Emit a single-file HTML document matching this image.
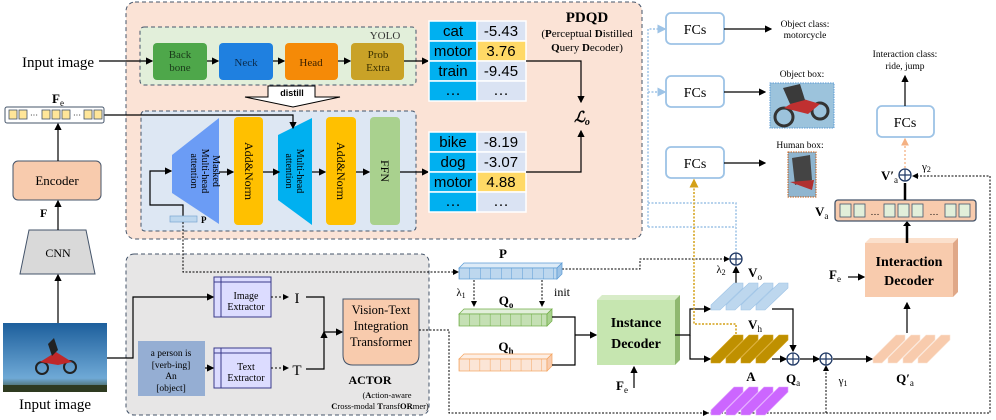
<!DOCTYPE html>
<html><head><meta charset="utf-8"><style>
body{margin:0;background:#fff}
svg{display:block}
svg text{font-family:"Liberation Serif",serif}
svg text.s{font-family:"Liberation Sans",sans-serif}
</style></head><body>
<svg width="996" height="420" viewBox="0 0 996 420" xmlns="http://www.w3.org/2000/svg" font-family="Liberation Serif, serif">
<defs>
<marker id="a" markerWidth="6" markerHeight="6" refX="5" refY="3" orient="auto"><path d="M0,0L6,3L0,6z" fill="#000"/></marker>
<marker id="ab" markerWidth="6" markerHeight="6" refX="5" refY="3" orient="auto"><path d="M0,0L6,3L0,6z" fill="#9dc3e6"/></marker>
<marker id="ag" markerWidth="6" markerHeight="6" refX="5" refY="3" orient="auto"><path d="M0,0L6,3L0,6z" fill="#d4a017"/></marker>
<marker id="ao" markerWidth="6" markerHeight="6" refX="5" refY="3" orient="auto"><path d="M0,0L6,3L0,6z" fill="#f4b183"/></marker>
<pattern id="pb" width="10.5" height="20" patternUnits="userSpaceOnUse" x="459"><rect width="10.5" height="20" fill="#bdd7ee"/><line x1="0" y1="0" x2="0" y2="20" stroke="#5b9bd5"/></pattern>
<pattern id="pg" width="10.3" height="20" patternUnits="userSpaceOnUse" x="459"><rect width="10.3" height="20" fill="#c5e0b4"/><line x1="0" y1="0" x2="0" y2="20" stroke="#70ad47"/></pattern>
<pattern id="po" width="10.3" height="20" patternUnits="userSpaceOnUse" x="459"><rect width="10.3" height="20" fill="#fbe5d6"/><line x1="0" y1="0" x2="0" y2="20" stroke="#f4a460"/></pattern>
<linearGradient id="sky" x1="0" y1="0" x2="0" y2="1"><stop offset="0" stop-color="#1d5f9c"/><stop offset="0.8" stop-color="#6fa9d6"/><stop offset="1" stop-color="#3a4a2a"/></linearGradient>
</defs>

<rect x="126" y="2" width="516" height="237" rx="9" fill="#fbe3d6" stroke="#44546a" stroke-dasharray="4,3"/>
<rect x="140" y="27" width="276" height="58" rx="4" fill="#e2efda" stroke="#44546a" stroke-dasharray="4,3"/>
<text x="385" y="39" font-size="11" text-anchor="middle" fill="#333">YOLO</text>
<rect x="153" y="43" width="54" height="37" rx="4" fill="#4ea74a"/>
<text x="180" y="58" font-size="11" text-anchor="middle" fill="#1a3a1a">Back</text><text x="180" y="71" font-size="11" text-anchor="middle" fill="#1a3a1a">bone</text>
<rect x="219" y="43" width="54" height="37" rx="4" fill="#1f80e0"/>
<text x="246" y="66" font-size="11" text-anchor="middle" fill="#0a2a4a">Neck</text>
<rect x="285" y="43" width="53" height="37" rx="4" fill="#f58a07"/>
<text x="311" y="66" font-size="11" text-anchor="middle" fill="#3a2000">Head</text>
<rect x="351" y="43" width="53" height="37" rx="4" fill="#c9a227"/>
<text x="378" y="58" font-size="11" text-anchor="middle" fill="#3a3000">Prob</text><text x="378" y="71" font-size="11" text-anchor="middle" fill="#3a3000">Extra</text>
<g stroke="#000" stroke-width="1.2" marker-end="url(#a)">
<line x1="99" y1="61" x2="152" y2="61"/><line x1="207" y1="61" x2="218" y2="61"/><line x1="273" y1="61" x2="284" y2="61"/><line x1="338" y1="61" x2="350" y2="61"/><line x1="404" y1="61" x2="428" y2="61"/>
</g>
<text x="22" y="67" font-size="15">Input image</text>
<path d="M268,86H315V97H340L293,107L245,97H268Z" fill="#fff" stroke="#000"/>
<text x="292" y="96" font-size="9" font-weight="bold" text-anchor="middle" class="s">distill</text>

<rect x="141" y="111" width="275" height="120" rx="4" fill="#dde7f3" stroke="#44546a" stroke-dasharray="4,3"/>
<polygon points="219,118 219,224 172,193 172,155" fill="#6b9cf5"/>
<text transform="translate(205,171) rotate(90)" font-size="10" text-anchor="middle"><tspan x="0" y="-8">Masked</tspan><tspan x="0" y="3">Multi-head</tspan><tspan x="0" y="14">attention</tspan></text>
<rect x="234" y="117" width="29" height="108" rx="4" fill="#ffc000"/>
<text transform="translate(249,171) rotate(90)" font-size="12" text-anchor="middle" y="4">Add&amp;Norm</text>
<polygon points="312,118 312,225 278,200 278,135" fill="#00b0f0"/>
<text transform="translate(295,171) rotate(90)" font-size="10" text-anchor="middle"><tspan x="0" y="-2">Multi-head</tspan><tspan x="0" y="9">attention</tspan></text>
<rect x="326" y="117" width="30" height="108" rx="4" fill="#ffc000"/>
<text transform="translate(341,171) rotate(90)" font-size="12" text-anchor="middle" y="4">Add&amp;Norm</text>
<rect x="370" y="117" width="30" height="108" rx="4" fill="#a9d18e"/>
<text transform="translate(385,171) rotate(90)" font-size="12" text-anchor="middle" y="4">FFN</text>
<g stroke="#000" stroke-width="1.2" marker-end="url(#a)" fill="none">
<line x1="219" y1="172" x2="233" y2="172"/><line x1="263" y1="172" x2="279" y2="172"/><line x1="312" y1="172" x2="325" y2="172"/><line x1="356" y1="172" x2="369" y2="172"/><line x1="400" y1="172" x2="428" y2="172"/>
<path d="M183,217V205H150V171H171"/>
<path d="M104,115H293V128"/>
</g>
<rect x="170" y="216" width="27" height="6" fill="#bdd7ee" stroke="#7aa6d0" stroke-width="0.7"/>
<text x="201" y="223" font-size="9" font-weight="bold">P</text>

<g font-size="15" text-anchor="middle">
<g stroke="#fff" stroke-width="1.5">
<rect x="429" y="21" width="48" height="20" fill="#00b0f0"/><rect x="477" y="21" width="49" height="20" fill="#dae3f3"/>
<rect x="429" y="41" width="48" height="20" fill="#00b0f0"/><rect x="477" y="41" width="49" height="20" fill="#ffd966"/>
<rect x="429" y="61" width="48" height="20" fill="#00b0f0"/><rect x="477" y="61" width="49" height="20" fill="#dae3f3"/>
<rect x="429" y="81" width="48" height="20" fill="#00b0f0"/><rect x="477" y="81" width="49" height="20" fill="#dae3f3"/>
<rect x="429" y="132" width="48" height="20" fill="#00b0f0"/><rect x="477" y="132" width="49" height="20" fill="#dae3f3"/>
<rect x="429" y="152" width="48" height="20" fill="#00b0f0"/><rect x="477" y="152" width="49" height="20" fill="#dae3f3"/>
<rect x="429" y="172" width="48" height="20" fill="#00b0f0"/><rect x="477" y="172" width="49" height="20" fill="#ffd966"/>
<rect x="429" y="192" width="48" height="20" fill="#00b0f0"/><rect x="477" y="192" width="49" height="20" fill="#dae3f3"/>
</g>
<text class="s" x="453" y="36">cat</text><text class="s" x="501" y="36">-5.43</text>
<text class="s" x="453" y="56">motor</text><text class="s" x="501" y="56">3.76</text>
<text class="s" x="453" y="76">train</text><text class="s" x="501" y="76">-9.45</text>
<text x="453" y="95">…</text><text x="501" y="95">…</text>
<text class="s" x="453" y="147">bike</text><text class="s" x="501" y="147">-8.19</text>
<text class="s" x="453" y="167">dog</text><text class="s" x="501" y="167">-3.07</text>
<text class="s" x="453" y="187">motor</text><text class="s" x="501" y="187">4.88</text>
<text x="453" y="206">…</text><text x="501" y="206">…</text>
</g>
<g stroke="#000" stroke-width="1.2" fill="none" marker-end="url(#a)">
<path d="M526,61H581V102"/><path d="M526,172H581V131"/>
</g>
<text x="582" y="122" font-size="15" font-style="italic" font-weight="bold" text-anchor="middle">ℒ<tspan font-size="10" dy="3">o</tspan></text>
<text x="587" y="22" font-size="15" font-weight="bold" text-anchor="middle">PDQD</text>
<text x="587" y="37" font-size="11" text-anchor="middle">(<tspan font-weight="bold">P</tspan>erceptual <tspan font-weight="bold">D</tspan>istilled</text>
<text x="587" y="51" font-size="11" text-anchor="middle"><tspan font-weight="bold">Q</tspan>uery <tspan font-weight="bold">D</tspan>ecoder)</text>

<rect x="5" y="107" width="99" height="16" rx="2" fill="#fff" stroke="#44546a"/>
<g fill="#ffe699" stroke="#44546a" stroke-width="0.8">
<rect x="9" y="110" width="8" height="9"/><rect x="19" y="110" width="8" height="9"/><rect x="42" y="110" width="8" height="9"/><rect x="52" y="110" width="8" height="9"/><rect x="62" y="110" width="8" height="9"/><rect x="84" y="110" width="8" height="9"/><rect x="94" y="110" width="8" height="9"/>
</g>
<text x="34" y="118" font-size="8" text-anchor="middle">···</text><text x="77" y="118" font-size="8" text-anchor="middle">···</text>
<text x="52" y="103" font-size="13" font-weight="bold">F<tspan font-size="9" font-weight="normal" dy="3">e</tspan></text>
<rect x="13" y="161" width="88" height="39" rx="5" fill="#f8cbad" stroke="#44546a"/>
<text x="57" y="185" font-size="13" text-anchor="middle">Encoder</text>
<text x="40" y="217" font-size="12" font-weight="bold">F</text>
<polygon points="29,230 86,230 95,274 20,274" fill="#d9d9d9" stroke="#44546a"/>
<text x="58" y="257" font-size="12" text-anchor="middle">CNN</text>
<g stroke="#000" stroke-width="1.2" marker-end="url(#a)">
<line x1="58" y1="161" x2="58" y2="124"/><line x1="58" y1="230" x2="58" y2="201"/><line x1="58" y1="323" x2="58" y2="275"/>
</g>
<rect x="3" y="323" width="104" height="69" fill="url(#sky)"/>
<rect x="3" y="385" width="104" height="7" fill="#2e3a20"/>
<circle cx="42" cy="368" r="6" fill="none" stroke="#222" stroke-width="2"/><circle cx="70" cy="367" r="6" fill="none" stroke="#222" stroke-width="2"/>
<path d="M40,362L56,352L72,362L58,365Z" fill="#c0282a"/><path d="M48,344L54,338L58,350L52,356Z" fill="#222"/>
<text x="55" y="409" font-size="15" text-anchor="middle">Input image</text>

<rect x="126" y="254" width="303" height="161" rx="8" fill="#e7e6e6" stroke="#44546a" stroke-dasharray="4,3"/>
<rect x="214" y="277" width="57" height="40" fill="#dcdcff" stroke="#3a3a8a"/>
<line x1="221" y1="277" x2="221" y2="317" stroke="#3a3a8a"/><line x1="214" y1="282" x2="271" y2="282" stroke="#3a3a8a"/>
<text x="246" y="299" font-size="10" text-anchor="middle">Image</text><text x="246" y="310" font-size="10" text-anchor="middle">Extractor</text>
<rect x="214" y="348" width="57" height="40" fill="#dcdcff" stroke="#3a3a8a"/>
<line x1="221" y1="348" x2="221" y2="388" stroke="#3a3a8a"/><line x1="214" y1="353" x2="271" y2="353" stroke="#3a3a8a"/>
<text x="246" y="370" font-size="10" text-anchor="middle">Text</text><text x="246" y="381" font-size="10" text-anchor="middle">Extractor</text>
<rect x="138" y="341" width="67" height="55" fill="#95aed3"/>
<g font-size="9.5" text-anchor="middle"><text x="171" y="356">a person is</text><text x="171" y="368">[verb-ing]</text><text x="171" y="379">An</text><text x="171" y="391">[object]</text></g>
<text x="297" y="303" font-size="15" text-anchor="middle">I</text><text x="297" y="375" font-size="15" text-anchor="middle">T</text>
<g stroke="#000" stroke-width="1.2" fill="none" marker-end="url(#a)">
<path d="M107,358H133V297H213"/><line x1="205" y1="368" x2="213" y2="368"/>
<path d="M306,297H324V332H342"/><path d="M306,369H324V332"/>
</g>
<g stroke="#000" stroke-dasharray="2,2" marker-end="url(#a)"><line x1="271" y1="297" x2="288" y2="297"/><line x1="271" y1="368" x2="288" y2="368"/></g>
<path d="M343,299H419V355Q419,365 409,365H353Q343,365 343,355Z" fill="#f8cbad" stroke="#44546a"/>
<g font-size="12.5" text-anchor="middle"><text x="381" y="314">Vision-Text</text><text x="381" y="330">Integration</text><text x="381" y="346">Transformer</text></g>
<text x="370" y="384" font-size="12" font-weight="bold" text-anchor="middle">ACTOR</text>
<text x="387" y="398" font-size="8.5" text-anchor="middle">(<tspan font-weight="bold">A</tspan>ction-aware</text>
<text x="380" y="409" font-size="8.5" text-anchor="middle"><tspan font-weight="bold">C</tspan>ross-modal <tspan font-weight="bold">T</tspan>ransf<tspan font-weight="bold">OR</tspan>mer)</text>

<g stroke="#000" stroke-width="1" stroke-dasharray="2,1.5" fill="none">
<path d="M183,222V272H458" marker-end="url(#a)"/>
<path d="M562,269H640V259H729" marker-end="url(#a)"/>
<path d="M419,330H449V413H708" marker-end="url(#a)"/>
<path d="M700,413H990V176H913" marker-end="url(#a)"/>
<path d="M826,413V366" marker-end="url(#a)"/>
<path d="M474,280V306" marker-end="url(#a)"/><path d="M542,280V306" marker-end="url(#a)"/>
</g>

<polygon points="459,268 464,263 562,263 557,268" fill="#ddebf7" stroke="#5b9bd5" stroke-width="0.7"/>
<rect x="459" y="268" width="98" height="11" fill="url(#pb)" stroke="#5b9bd5" stroke-width="0.7"/>
<polygon points="557,268 562,263 562,274 557,279" fill="#9dc3e6" stroke="#5b9bd5" stroke-width="0.7"/>
<text x="503" y="258" font-size="13" font-weight="bold" text-anchor="middle">P</text>
<text x="461" y="296" font-size="11" text-anchor="middle">λ<tspan font-size="8" dy="2">1</tspan></text>
<text x="562" y="296" font-size="12" text-anchor="middle">init</text>
<text x="506" y="305" font-size="13" font-weight="bold" text-anchor="middle">Q<tspan font-size="9" dy="3">o</tspan></text>
<polygon points="459,314 464,309 552,309 547,314" fill="#e2efda" stroke="#70ad47" stroke-width="0.7"/>
<rect x="459" y="314" width="88" height="12" fill="url(#pg)" stroke="#70ad47" stroke-width="0.7"/>
<polygon points="547,314 552,309 552,321 547,326" fill="#a9d18e" stroke="#70ad47" stroke-width="0.7"/>
<text x="506" y="351" font-size="13" font-weight="bold" text-anchor="middle">Q<tspan font-size="9" dy="3">h</tspan></text>
<polygon points="459,359 464,354 552,354 547,359" fill="#fdeee4" stroke="#f4a460" stroke-width="0.7"/>
<rect x="459" y="359" width="88" height="12" fill="url(#po)" stroke="#f4a460" stroke-width="0.7"/>
<polygon points="547,359 552,354 552,366 547,371" fill="#f8cbad" stroke="#f4a460" stroke-width="0.7"/>
<g stroke="#000" stroke-width="1.2" fill="none">
<path d="M552,317H575V365H552"/><path d="M575,335H596" marker-end="url(#a)"/>
</g>
<polygon points="597,300 602,295 680,295 675,300" fill="#d8ecc8"/>
<polygon points="675,300 680,295 680,360 675,365" fill="#8fb870"/>
<rect x="597" y="300" width="78" height="65" fill="#c6e6b0"/>
<text x="636" y="327" font-size="14" font-weight="bold" text-anchor="middle">Instance</text>
<text x="636" y="348" font-size="14" font-weight="bold" text-anchor="middle">Decoder</text>
<text x="616" y="390" font-size="13" font-weight="bold">F<tspan font-size="9" font-weight="normal" dy="3">e</tspan></text>
<line x1="634" y1="388" x2="634" y2="367" stroke="#000" stroke-width="1.2" marker-end="url(#a)"/>
<g stroke="#000" stroke-width="1.2" fill="none">
<path d="M675,335H690V309H710" marker-end="url(#a)"/><path d="M690,335V359H710" marker-end="url(#a)"/>
<path d="M772,309H793V351" marker-end="url(#a)"/><path d="M772,359H786" marker-end="url(#a)"/>
<path d="M800,359H819" marker-end="url(#a)"/><path d="M833,359H872" marker-end="url(#a)"/>
<path d="M736,283V267" marker-end="url(#a)"/>
<path d="M907,333V303" marker-end="url(#a)"/>
<path d="M848,277H864" marker-end="url(#a)"/>
</g>
<g stroke-width="0.6">
<g fill="#bdd7ee" stroke="#9dc3e6">
<polygon points="711,310 720,310 743,288 743,283 734,283 711,305"/><polygon points="726,310 735,310 758,288 758,283 749,283 726,305"/><polygon points="741,310 750,310 773,288 773,283 764,283 741,305"/><polygon points="756,310 765,310 788,288 788,283 779,283 756,305"/>
</g>
<g fill="#bf9000" stroke="#d4a017">
<polygon points="711,363 720,363 743,340 743,335 734,335 711,358"/><polygon points="726,363 735,363 758,340 758,335 749,335 726,358"/><polygon points="741,363 750,363 773,340 773,335 764,335 741,358"/><polygon points="756,363 765,363 788,340 788,335 779,335 756,358"/>
</g>
<g fill="#cc66ff" stroke="#e0a0ff">
<polygon points="711,415 720,415 743,392 743,387 734,387 711,410"/><polygon points="726,415 735,415 758,392 758,387 749,387 726,410"/><polygon points="741,415 750,415 773,392 773,387 764,387 741,410"/><polygon points="756,415 765,415 788,392 788,387 779,387 756,410"/>
</g>
<g fill="#f8cbad" stroke="#fbe5d6">
<polygon points="873,363 882,363 905,340 905,335 896,335 873,358"/><polygon points="888,363 897,363 920,340 920,335 911,335 888,358"/><polygon points="903,363 912,363 935,340 935,335 926,335 903,358"/><polygon points="918,363 927,363 950,340 950,335 941,335 918,358"/>
</g>
</g>
<text x="755" y="277" font-size="13" font-weight="bold" text-anchor="middle">V<tspan font-size="9" font-weight="normal" dy="3">o</tspan></text>
<text x="755" y="329" font-size="13" font-weight="bold" text-anchor="middle">V<tspan font-size="9" font-weight="normal" dy="3">h</tspan></text>
<text x="751" y="381" font-size="13" font-weight="bold" text-anchor="middle">A</text>
<text x="793" y="383" font-size="13" font-weight="bold" text-anchor="middle">Q<tspan font-size="9" font-weight="normal" dy="3">a</tspan></text>
<text x="843" y="384" font-size="11" text-anchor="middle">γ<tspan font-size="8" dy="2">1</tspan></text>
<text x="905" y="383" font-size="13" font-weight="bold" text-anchor="middle">Q′<tspan font-size="9" font-weight="normal" dy="3">a</tspan></text>
<text x="721" y="273" font-size="11" text-anchor="middle">λ<tspan font-size="8" dy="2">2</tspan></text>
<g fill="#fff" stroke="#1f3864" stroke-width="1.3">
<circle cx="736" cy="259" r="6"/><circle cx="793" cy="359" r="6"/><circle cx="826" cy="359" r="6"/><circle cx="905" cy="175" r="6"/>
</g>
<g stroke="#1f3864" stroke-width="1.2">
<path d="M730,259H742M736,253V265"/><path d="M787,359H799M793,353V365"/><path d="M820,359H832M826,353V365"/><path d="M899,175H911M905,169V181"/>
</g>

<polygon points="865,243 870,238 958,238 953,243" fill="#fbe0cc"/>
<polygon points="953,243 958,238 958,292 953,297" fill="#e0a888"/>
<rect x="865" y="243" width="88" height="54" fill="#f8cbad"/>
<text x="909" y="266" font-size="14" font-weight="bold" text-anchor="middle">Interaction</text>
<text x="909" y="285" font-size="14" font-weight="bold" text-anchor="middle">Decoder</text>
<text x="829" y="279" font-size="13" font-weight="bold">F<tspan font-size="9" font-weight="normal" dy="3">e</tspan></text>
<line x1="907" y1="243" x2="907" y2="224" stroke="#000" stroke-width="2.5"/>
<path d="M903,226L907,221L911,226Z" fill="#000"/>
<rect x="835" y="200" width="141" height="21" rx="3" fill="#f8cbad" stroke="#44546a" stroke-width="1.3"/>
<g fill="#e2efda" stroke="#44546a" stroke-width="0.8">
<rect x="840" y="204" width="11" height="13"/><rect x="854" y="204" width="11" height="13"/><rect x="884" y="204" width="11" height="13"/><rect x="898" y="204" width="11" height="13"/><rect x="912" y="204" width="11" height="13"/><rect x="945" y="204" width="11" height="13"/><rect x="959" y="204" width="11" height="13"/>
</g>
<text x="875" y="215" font-size="9" text-anchor="middle">…</text><text x="934" y="215" font-size="9" text-anchor="middle">…</text>
<text x="815" y="216" font-size="13" font-weight="bold">V<tspan font-size="9" font-weight="normal" dy="3">a</tspan></text>
<line x1="905" y1="200" x2="905" y2="183" stroke="#000" stroke-width="2.5"/>
<text x="881" y="180" font-size="13" font-weight="bold">V′<tspan font-size="9" font-weight="normal" dy="3">a</tspan></text>
<text x="922" y="170" font-size="11">γ<tspan font-size="8" dy="2">2</tspan></text>
<line x1="905" y1="168" x2="905" y2="139" stroke="#f4b183" stroke-width="1.3" stroke-dasharray="2,2" marker-end="url(#ao)"/>
<rect x="877" y="106" width="57" height="31" rx="5" fill="#fff" stroke="#9dc3e6" stroke-width="1.8"/>
<text x="905" y="127" font-size="14" text-anchor="middle">FCs</text>
<line x1="905" y1="106" x2="905" y2="76" stroke="#000" stroke-width="1.2" marker-end="url(#a)"/>
<text x="905" y="57" font-size="9.5" text-anchor="middle">Interaction class:</text>
<text x="905" y="69" font-size="9.5" text-anchor="middle">ride, jump</text>

<g fill="#fff" stroke="#9dc3e6" stroke-width="1.8">
<rect x="666" y="13" width="58" height="31" rx="5"/><rect x="666" y="76" width="58" height="31" rx="5"/><rect x="666" y="147" width="58" height="31" rx="5"/>
</g>
<g font-size="14" text-anchor="middle"><text x="695" y="34">FCs</text><text x="695" y="97">FCs</text><text x="695" y="168">FCs</text></g>
<g stroke="#000" stroke-width="1.2" marker-end="url(#a)">
<line x1="724" y1="29" x2="771" y2="29"/><line x1="724" y1="92" x2="765" y2="92"/><line x1="724" y1="163" x2="765" y2="163"/>
</g>
<text x="805" y="27" font-size="9.5" text-anchor="middle">Object class:</text>
<text x="805" y="38" font-size="9.5" text-anchor="middle">motorcycle</text>
<text x="802" y="77" font-size="9.5" text-anchor="middle">Object box:</text>
<rect x="770" y="83" width="64" height="45" fill="#9cc3dc" stroke="#5b9bd5" stroke-dasharray="1.5,1"/>
<circle cx="784" cy="117" r="9" fill="none" stroke="#333" stroke-width="3"/><circle cx="820" cy="111" r="8" fill="none" stroke="#333" stroke-width="3"/>
<path d="M784,108L800,98L820,104L808,114Z" fill="#c03030"/><path d="M783,88L800,84L805,100L790,104Z" fill="#3a3a3a"/>
<text x="800" y="148" font-size="9.5" text-anchor="middle">Human box:</text>
<rect x="788" y="152" width="28" height="45" fill="#8fb5cf" stroke="#c55a11" stroke-dasharray="1.5,1"/>
<path d="M792,158L810,155L812,180L795,185Z" fill="#444"/><path d="M790,182L814,180L812,190Z" fill="#b03030"/>

<g stroke="#9dc3e6" stroke-width="1.5" stroke-dasharray="2,1.5" fill="none">
<path d="M648,227V29H665" marker-end="url(#ab)"/><path d="M648,92H665" marker-end="url(#ab)"/>
<path d="M648,203H736V252"/><path d="M648,227H736"/>
</g>
<g stroke="#d4a017" stroke-width="1.5" stroke-dasharray="2,1.5" fill="none">
<path d="M736,334V324H694V180" marker-end="url(#ag)"/>
</g>
</svg>
</body></html>
